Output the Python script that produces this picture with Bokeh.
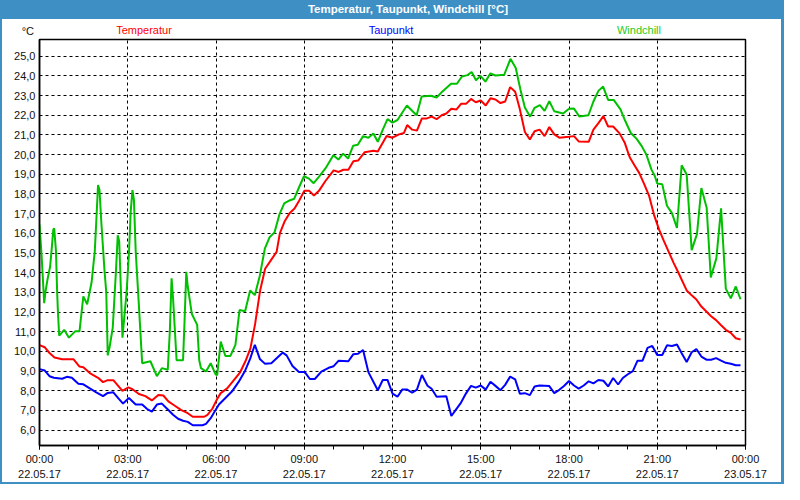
from bokeh.plotting import figure
from bokeh.models import Range1d, FixedTicker, Div, ColumnDataSource
from bokeh.layouts import column, row
from bokeh.embed import file_html
from bokeh.resources import INLINE

# ---- data (hours since 22.05.17 00:00, °C) ----
temp_h = [0.0, 0.18, 0.34, 0.51, 0.77, 1.16, 1.36, 1.49, 1.71, 1.99, 2.16, 2.32, 2.51, 2.66, 2.82, 3.02, 3.16,
          3.38, 3.6, 3.82, 4.04, 4.21, 4.38, 4.6, 4.82, 5.04, 5.21, 5.6, 5.71, 5.88, 6.04, 6.16, 6.38, 6.6, 6.82,
          7.0, 7.17, 7.33, 7.5, 7.67, 7.83, 8.06, 8.17, 8.33, 8.5, 8.67, 8.83, 9.0, 9.17, 9.33, 9.5, 9.72, 10.0,
          10.17, 10.33, 10.5, 10.67, 10.83, 11.05, 11.35, 11.5, 11.8, 12.0, 12.22, 12.39, 12.5, 12.67, 12.83, 13.0,
          13.17, 13.33, 13.5, 13.67, 13.83, 14.0, 14.17, 14.33, 14.5, 14.67, 14.83, 15.0, 15.17, 15.33, 15.5, 15.67,
          15.83, 16.0, 16.17, 16.33, 16.5, 16.67, 16.83, 17.0, 17.17, 17.33, 17.5, 17.67, 18.0, 18.17, 18.33, 18.67,
          18.83, 19.0, 19.17, 19.33, 19.5, 19.72, 19.89, 20.06, 20.22, 20.39, 20.56, 20.72, 20.89, 21.06, 21.22,
          21.39, 21.56, 21.72, 22.0, 22.17, 22.33, 22.5, 22.67, 22.83, 23.0, 23.17, 23.33, 23.5, 23.67, 23.83]
temp_v = [10.32, 10.21, 9.92, 9.69, 9.6, 9.6, 9.23, 9.2, 8.9, 8.66, 8.44, 8.54, 8.54, 8.28, 8.0, 8.17, 8.08,
          7.84, 7.73, 7.51, 7.79, 7.76, 7.46, 7.24, 7.02, 6.86, 6.68, 6.68, 6.78, 7.1, 7.59, 7.88, 8.12, 8.53, 8.94,
          9.5, 10.15, 11.4, 13.1, 14.2, 14.55, 15.06, 16.0, 16.6, 17.02, 17.26, 17.67, 18.16, 18.16, 17.92, 18.16,
          18.66, 19.2, 19.12, 19.23, 19.23, 19.66, 19.7, 20.12, 20.2, 20.16, 20.95, 20.86, 21.03, 21.1, 21.5, 21.27,
          21.22, 21.84, 21.84, 21.93, 21.8, 22.0, 22.09, 22.33, 22.29, 22.58, 22.58, 22.83, 22.66, 22.75, 22.5,
          22.86, 22.8, 22.62, 22.7, 23.43, 23.2, 22.3, 21.15, 20.77, 21.19, 21.27, 20.94, 21.4, 21.03, 20.86, 20.91,
          20.94, 20.67, 20.65, 21.27, 21.6, 21.96, 21.43, 21.43, 21.08, 20.62, 19.88, 19.47, 19.06, 18.49, 17.92,
          16.94, 16.2, 15.63, 15.06, 14.49, 14.0, 13.1, 12.85, 12.64, 12.28, 12.03, 11.79, 11.59, 11.33, 11.1,
          10.94, 10.67, 10.61]

dew_h = [0.0, 0.18, 0.34, 0.49, 0.77, 0.93, 1.1, 1.32, 1.49, 1.71, 1.93, 2.16, 2.32, 2.51, 2.69, 2.84, 3.04,
         3.27, 3.49, 3.66, 3.82, 3.99, 4.16, 4.38, 4.54, 4.71, 4.88, 5.04, 5.21, 5.54, 5.66, 5.82, 5.96, 6.1, 6.32,
         6.54, 6.77, 6.99, 7.16, 7.32, 7.49, 7.66, 7.88, 8.08, 8.27, 8.4, 8.6, 8.82, 9.02, 9.19, 9.36, 9.58, 9.83,
         10.0, 10.17, 10.5, 10.67, 10.83, 11.0, 11.18, 11.5, 11.67, 11.83, 12.0, 12.17, 12.33, 12.5, 12.67, 12.83,
         13.0, 13.19, 13.33, 13.5, 13.83, 14.0, 14.17, 14.33, 14.5, 14.67, 14.83, 15.0, 15.17, 15.33, 15.5, 15.67,
         15.83, 16.0, 16.17, 16.33, 16.5, 16.67, 16.83, 17.0, 17.33, 17.5, 17.67, 17.83, 18.0, 18.17, 18.33, 18.5,
         18.67, 18.83, 19.0, 19.17, 19.33, 19.5, 19.67, 19.83, 20.0, 20.17, 20.33, 20.5, 20.67, 20.83, 21.0,
         21.17, 21.33, 21.5, 21.67, 21.83, 22.0, 22.17, 22.33, 22.5, 22.67, 22.83, 23.0, 23.17, 23.33, 23.5,
         23.67, 23.83]
dew_v = [9.1, 9.03, 8.74, 8.66, 8.61, 8.71, 8.66, 8.36, 8.33, 8.12, 7.92, 7.73, 7.89, 7.92, 7.6, 7.35, 7.63,
         7.3, 7.3, 7.07, 6.94, 7.3, 7.35, 7.02, 6.78, 6.58, 6.48, 6.42, 6.25, 6.25, 6.32, 6.61, 6.96, 7.3, 7.63,
         7.96, 8.45, 9.02, 9.62, 10.34, 9.62, 9.38, 9.4, 9.68, 9.94, 9.8, 9.26, 8.95, 8.95, 8.6, 8.6, 8.97, 9.17,
         9.25, 9.53, 9.5, 9.86, 9.88, 10.07, 8.95, 8.03, 8.55, 8.55, 7.86, 7.7, 8.06, 8.06, 7.9, 8.06, 8.8, 8.26,
         8.1, 7.7, 7.72, 6.72, 7.07, 7.4, 7.87, 8.25, 8.16, 8.27, 8.06, 8.46, 8.25, 8.03, 8.3, 8.72, 8.58, 7.85,
         7.88, 7.78, 8.22, 8.27, 8.24, 7.88, 8.05, 8.24, 8.5, 8.27, 8.11, 8.27, 8.48, 8.38, 8.55, 8.51, 8.22, 8.65,
         8.32, 8.65, 8.84, 9.0, 9.53, 9.53, 10.18, 10.28, 9.82, 9.82, 10.31, 10.28, 10.35, 9.91, 9.46, 9.96, 10.12,
         9.74, 9.58, 9.58, 9.66, 9.53, 9.42, 9.37, 9.3, 9.3]

chill_h = [0.0, 0.07, 0.16, 0.2, 0.27, 0.36, 0.42, 0.47, 0.5, 0.56, 0.6, 0.63, 0.67, 0.84, 1.0, 1.22, 1.36,
           1.49, 1.62, 1.77, 1.88, 1.93, 1.99, 2.04, 2.1, 2.21, 2.27, 2.32, 2.38, 2.49, 2.6, 2.66, 2.71, 2.77,
           2.82, 2.88, 2.96, 3.04, 3.1, 3.16, 3.21, 3.27, 3.38, 3.49, 3.77, 3.99, 4.16, 4.36, 4.43, 4.49, 4.54,
           4.66, 4.88, 4.93, 4.99, 5.04, 5.18, 5.36, 5.43, 5.49, 5.66, 5.82, 5.99, 6.04, 6.16, 6.32, 6.49, 6.66,
           6.8, 6.99, 7.16, 7.32, 7.49, 7.66, 7.82, 7.99, 8.16, 8.32, 8.5, 8.66, 8.82, 8.99, 9.16, 9.32, 9.49, 9.72,
           9.99, 10.16, 10.32, 10.49, 10.66, 10.82, 11.0, 11.18, 11.35, 11.5, 11.67, 11.83, 12.0, 12.17, 12.49,
           12.82, 12.99, 13.3, 13.5, 13.69, 13.99, 14.19, 14.36, 14.55, 14.69, 14.84, 14.99, 15.16, 15.33, 15.5,
           15.8, 16.01, 16.19, 16.35, 16.5, 16.68, 16.83, 17.01, 17.17, 17.33, 17.5, 17.8, 18.0, 18.17, 18.35,
           18.66, 18.83, 19.0, 19.16, 19.33, 19.52, 19.75, 19.91, 20.1, 20.3, 20.46, 20.63, 20.8, 20.92, 21.0,
           21.17, 21.33, 21.5, 21.67, 21.83, 22.0, 22.17, 22.35, 22.5, 22.68, 22.82, 23.01, 23.17, 23.33, 23.5,
           23.67, 23.83]
chill_v = [16.45, 14.9, 12.45, 13.0, 13.64, 14.3, 15.3, 16.2, 16.25, 15.1, 13.0, 11.9, 10.8, 11.1, 10.7, 11.03,
           11.03, 12.8, 12.4, 13.5, 15.1, 16.6, 18.46, 18.2, 16.6, 14.1, 13.0, 9.8, 10.2, 11.2, 14.1, 15.9, 15.6,
           13.0, 10.7, 11.7, 13.0, 14.95, 17.1, 18.2, 17.7, 15.1, 12.3, 9.4, 9.5, 8.74, 9.15, 9.07, 11.0, 13.72,
           12.7, 9.55, 9.55, 11.5, 14.05, 13.3, 11.9, 11.35, 9.55, 9.15, 8.98, 9.4, 8.82, 8.8, 10.5, 9.77, 9.77,
           10.33, 12.1, 12.04, 13.1, 12.86, 13.85, 15.22, 15.8, 16.05, 16.98, 17.52, 17.67, 17.76, 18.33, 18.9,
           18.78, 18.55, 18.86, 19.3, 19.97, 19.75, 20.05, 19.8, 20.45, 20.5, 20.94, 20.86, 21.07, 20.65, 21.27,
           21.8, 21.63, 21.76, 22.5, 22.0, 22.95, 22.99, 22.9, 23.2, 23.6, 23.6, 23.97, 24.04, 24.2, 23.78, 24.0,
           23.71, 24.13, 24.02, 24.06, 24.87, 24.4, 23.3, 22.4, 21.93, 22.38, 22.52, 22.22, 22.72, 22.2, 22.09,
           22.33, 22.34, 21.94, 22.0, 22.7, 23.24, 23.46, 22.78, 22.78, 22.3, 21.72, 21.1, 20.8, 20.46, 20.0,
           19.25, 18.9, 18.53, 18.5, 17.4, 17.03, 16.27, 19.46, 18.99, 15.15, 15.96, 18.3, 17.3, 13.76, 14.74,
           17.27, 13.19, 12.7, 13.3, 12.65]

x_ticks = [0, 3, 6, 9, 12, 15, 18, 21, 24]
x_tick_labels = ["00:00\n22.05.17", "03:00\n22.05.17", "06:00\n22.05.17", "09:00\n22.05.17",
                 "12:00\n22.05.17", "15:00\n22.05.17", "18:00\n22.05.17", "21:00\n22.05.17",
                 "00:00\n23.05.17"]
y_ticks = list(range(6, 26))
y_tick_labels = [f"{v},0" for v in y_ticks]

chart_title = "Temperatur, Taupunkt, Windchill [°C]"
unit_label = "°C"
series_names = ["Temperatur", "Taupunkt", "Windchill"]
series_colors = ["#ff0000", "#0000ff", "#00c000"]
legend_colors = ["#ff0000", "#0000ff", "#22cc22"]

FONT = "Liberation Sans"
FRAME_BLUE = "#3d8fc4"
W, H = 784, 484
HEADER_H = 38
EDGE_L, EDGE_R, EDGE_B = 2, 3, 2

# ---- header (title bar + series labels + unit) ----
legend_cx = [144, 391, 639]
parts = [
    f'<div style="position:relative;width:{W}px;height:{HEADER_H}px;overflow:hidden;'
    f'font-family:\'{FONT}\',sans-serif;font-size:11px;background:#ffffff;'
    f'box-sizing:border-box;border-left:{EDGE_L}px solid {FRAME_BLUE};border-right:{EDGE_R}px solid {FRAME_BLUE};">',
    f'<div style="position:absolute;left:-{EDGE_L}px;top:0;width:{W}px;height:19px;background:{FRAME_BLUE};"></div>',
    f'<div style="position:absolute;left:{258 - EDGE_L}px;top:0;width:300px;height:19px;line-height:19px;'
    f'text-align:center;color:#ffffff;font-weight:bold;font-size:11.5px;white-space:nowrap;">{chart_title}</div>',
]
for name, c, cx in zip(series_names, legend_colors, legend_cx):
    parts.append(f'<div style="position:absolute;left:{cx - 60 - EDGE_L}px;top:23px;width:120px;height:15px;'
                 f'line-height:15px;text-align:center;color:{c};white-space:nowrap;">{name}</div>')
parts.append(f'<div style="position:absolute;left:0;top:24px;width:{34 - EDGE_L}px;height:15px;line-height:15px;'
             f'text-align:right;color:#111111;">{unit_label}</div>')
parts.append('</div>')
header = Div(text="".join(parts), width=W, height=HEADER_H, margin=(0, 0, 0, 0))

# ---- chart ----
PW = W - EDGE_L - EDGE_R
PH = H - HEADER_H - EDGE_B
p = figure(width=PW, height=PH, output_backend="svg", toolbar_location=None,
           x_range=Range1d(0, 24), y_range=Range1d(5.22, 25.85),
           min_border_left=39 - EDGE_L, min_border_right=39 - EDGE_R, min_border_top=1,
           min_border_bottom=PH - 1 - 407,
           background_fill_color="white", border_fill_color="white")
p.margin = (0, 0, 0, 0)
p.outline_line_color = "black"
p.outline_line_width = 1.5

p.xaxis.ticker = FixedTicker(ticks=x_ticks, minor_ticks=list(range(0, 25)))
p.xaxis.major_label_overrides = {t: l for t, l in zip(x_ticks, x_tick_labels)}
p.xaxis.major_tick_out = 4
p.xaxis.major_tick_in = 0
p.xaxis.minor_tick_out = 4
p.xaxis.minor_tick_in = 0
p.xaxis.major_label_standoff = 3
p.xaxis.major_label_text_font = FONT
p.xaxis.major_label_text_font_size = "11px"
p.xaxis.major_label_text_line_height = 1.25
p.xaxis.major_label_text_color = "#111111"
p.xaxis.axis_line_color = "black"
p.xaxis.axis_line_width = 1.5

p.yaxis.ticker = FixedTicker(ticks=y_ticks)
p.yaxis.major_label_overrides = {t: l for t, l in zip(y_ticks, y_tick_labels)}
p.yaxis.major_tick_out = 0
p.yaxis.major_tick_in = 0
p.yaxis.minor_tick_out = 0
p.yaxis.minor_tick_in = 0
p.yaxis.major_label_standoff = 4
p.yaxis.major_label_text_font = FONT
p.yaxis.major_label_text_font_size = "11px"
p.yaxis.major_label_text_color = "#111111"
p.yaxis.axis_line_color = "black"
p.yaxis.axis_line_width = 1.5

p.xgrid.ticker = FixedTicker(ticks=x_ticks[1:-1])
p.ygrid.ticker = FixedTicker(ticks=y_ticks)
for g in (p.xgrid, p.ygrid):
    g.grid_line_color = "black"
    g.grid_line_dash = "3 3"
    g.grid_line_width = 1
    g.grid_line_alpha = 1.0

for xs, ys, c in ((temp_h, temp_v, series_colors[0]),
                  (dew_h, dew_v, series_colors[1]),
                  (chill_h, chill_v, series_colors[2])):
    src = ColumnDataSource(dict(x=xs, y=ys))
    p.line("x", "y", source=src, line_color=c, line_width=2)

# ---- window edges ----
edge_left = Div(text="", width=EDGE_L, height=PH, margin=(0, 0, 0, 0),
                styles={"background-color": FRAME_BLUE})
edge_right = Div(text="", width=EDGE_R, height=PH, margin=(0, 0, 0, 0),
                 styles={"background-color": FRAME_BLUE})
edge_bottom = Div(text="", width=W, height=EDGE_B, margin=(0, 0, 0, 0),
                  styles={"background-color": FRAME_BLUE})

layout = column(header, row(edge_left, p, edge_right, spacing=0), edge_bottom, spacing=0)
open("out.html", "w").write(file_html(layout, INLINE))
